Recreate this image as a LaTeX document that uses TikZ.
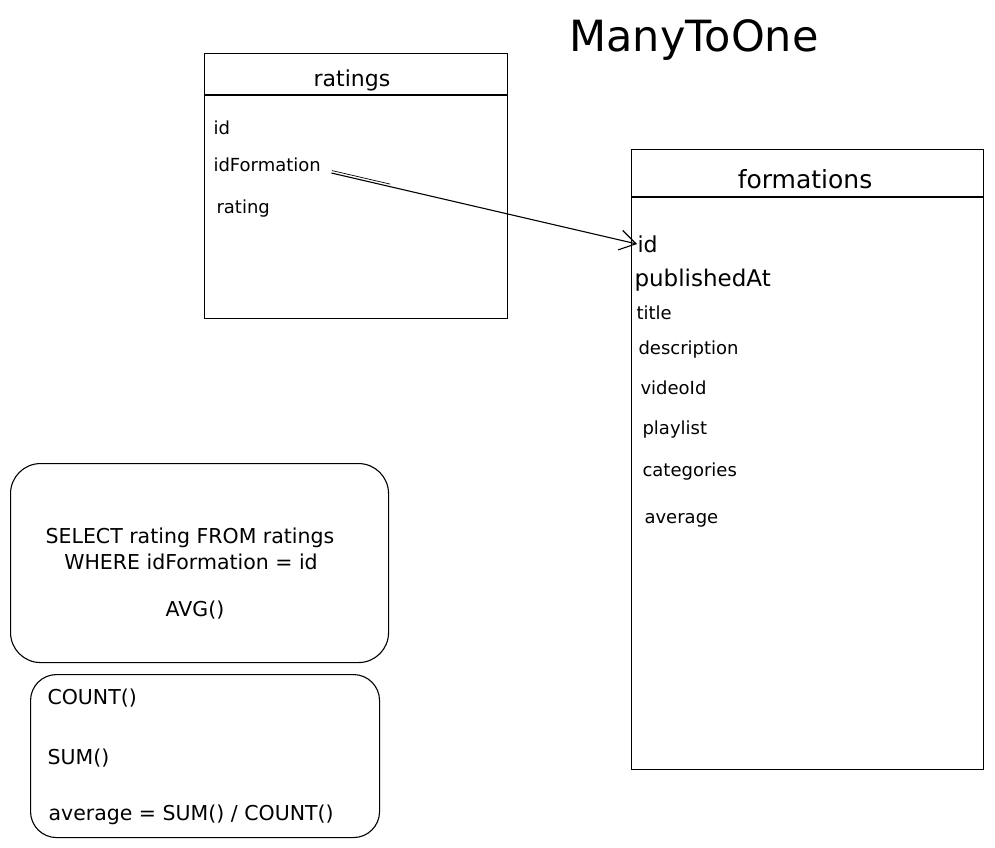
\documentclass[tikz,border=0pt]{standalone}
\usepackage{fontspec}
\setmainfont{DejaVu Sans}
\usetikzlibrary{arrows.meta,calc}
\begin{document}
\begin{tikzpicture}[x=1pt,y=-1pt,line width=1.1pt,
  tblbox/.style={draw,rectangle,inner sep=0pt,anchor=north west},
  roundbox/.style={draw,rectangle,rounded corners=#1,inner sep=0pt,anchor=north west},
  tbltitle/.style={inner sep=0pt,font=\fontsize{22}{26}\selectfont},
  fld/.style={inner sep=0pt,anchor=west,font=\fontsize{18}{22}\selectfont},
  bigfld/.style={inner sep=0pt,anchor=west,font=\fontsize{23}{27}\selectfont},
  sqltxt/.style={inner sep=0pt,font=\fontsize{20.5}{24}\selectfont},
  link/.style={-{Straight Barb[length=16pt,width=20pt,line width=1.1pt]},line width=1.1pt}]
\useasboundingbox (0,0) rectangle (995,847);
\fill[white] (0,0) rectangle (995,847);

% title
\node[inner sep=0pt,font=\fontsize{43}{49}\selectfont] (title) at (694,40) {ManyToOne};

% ratings table
\node[tblbox,minimum width=303pt,minimum height=265pt] (ratings) at (204,53) {};
\draw (ratings.west |- 0,95) coordinate (rh1) -- (ratings.east |- 0,95) coordinate (rh2);
\node[tbltitle] (ratingsT) at (352,80) {ratings};
\node[fld] (rid) at (213,128) {id};
\node[fld] (ridf) at (213,165) {idFormation};
\node[fld] (rrating) at (216,209) {rating};

% formations table
\node[tblbox,minimum width=352pt,minimum height=620pt] (formations) at (631,149) {};
\draw (formations.west |- 0,197) coordinate (fh1) -- (formations.east |- 0,197) coordinate (fh2);
\node[tbltitle,font=\fontsize{25}{29}\selectfont] (formationsT) at (805,179) {formations};
\node[fld,font=\fontsize{22}{26}\selectfont] (fid) at (637,244) {id};
\node[bigfld] (fpub) at (634,280) {publishedAt};
\node[fld] (ftitle) at (636,313) {title};
\node[fld] (fdesc) at (638,350) {description};
\node[fld] (fvid) at (640,388) {videoId};
\node[fld] (fplay) at (642,430) {playlist};
\node[fld] (fcat) at (642,472) {categories};
\node[fld] (favg) at (644,520) {average};

% relation
\coordinate (linkstart) at ($(ridf.east)+(10,8)$);
\draw[link] (linkstart) -- (fid.west);
\draw[line width=0.7pt] ($(linkstart)!2.5pt!90:(fid.west)$) -- ($($(linkstart)!60pt!(fid.west)$)!2.5pt!-90:(linkstart)$);

% SQL box
\node[roundbox=30pt,minimum width=378pt,minimum height=199pt] (sqlbox) at (10,463) {};
\node[sqltxt] (sql1) at (190,538) {SELECT rating FROM ratings};
\node[sqltxt] (sql2) at (191,562) {WHERE idFormation = id};
\node[sqltxt] (sql3) at (195,610) {AVG()};

% aggregate box
\node[roundbox=26pt,minimum width=349pt,minimum height=163pt] (aggbox) at (30,674) {};
\node[sqltxt,anchor=west] (agg1) at (47,698) {COUNT()};
\node[sqltxt,anchor=west] (agg2) at (47,758) {SUM()};
\node[sqltxt,anchor=west] (agg3) at (48,815) {average = SUM() / COUNT()};
\end{tikzpicture}
\end{document}
